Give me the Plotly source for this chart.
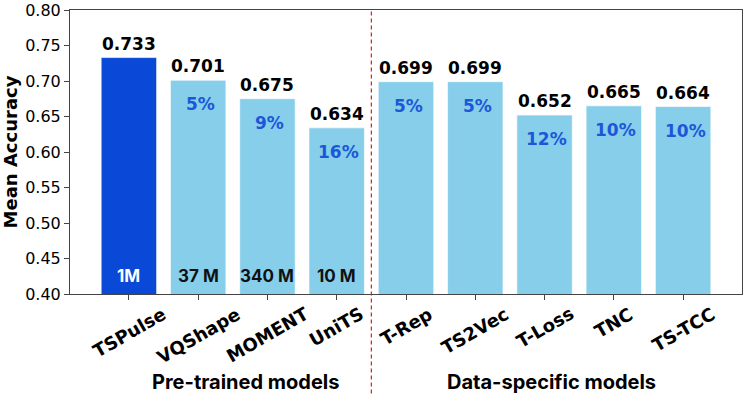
import plotly.graph_objects as go

models = ["TSPulse", "VQShape", "MOMENT", "UniTS", "T-Rep", "TS2Vec", "T-Loss", "TNC", "TS-TCC"]
accuracy = [0.733, 0.701, 0.675, 0.634, 0.699, 0.699, 0.652, 0.665, 0.664]
gap_pct = ["", "5%", "9%", "16%", "5%", "5%", "12%", "10%", "10%"]
params = ["1M", "37 M", "340 M", "10 M", "", "", "", "", ""]
groups = ["Pre-trained models", "Data-specific models"]
y_ticks = [0.40, 0.45, 0.50, 0.55, 0.60, 0.65, 0.70, 0.75, 0.80]

DARK_BLUE = "#0a49d8"
LIGHT_BLUE = "#87ceeb"
PCT_BLUE = "#1b58d8"
MPL_FONT = "DejaVu Sans"
OFFICE_FONT = "Inter"

x = list(range(len(models)))
colors = [DARK_BLUE] + [LIGHT_BLUE] * (len(models) - 1)

fig = go.Figure()
fig.add_trace(go.Bar(
    x=x, y=accuracy, width=0.8,
    marker=dict(color=colors, line=dict(color="rgba(255,255,255,0.6)", width=1)),
    hoverinfo="skip",
))

for i, v in enumerate(accuracy):
    fig.add_annotation(x=i, y=v, text=f"<b>{v:.3f}</b>", showarrow=False,
                       yanchor="bottom", yshift=2,
                       font=dict(family=MPL_FONT, size=17, color="black"))
    if gap_pct[i]:
        fig.add_annotation(x=i + 0.03, y=v - 0.034, text=f"<b>{gap_pct[i]}</b>", showarrow=False,
                           yanchor="middle",
                           font=dict(family=MPL_FONT, size=17, color=PCT_BLUE))
    if params[i]:
        fig.add_annotation(x=i, y=0.426, text=f"<b>{params[i]}</b>", showarrow=False,
                           yanchor="middle",
                           font=dict(family=OFFICE_FONT, size=17,
                                     color="white" if i == 0 else "#111111"))
    # rotated model names, centred under each tick (matplotlib ha="center" style)
    fig.add_annotation(x=i, y=-0.022, xref="x", yref="paper", text=f"<b>{models[i]}</b>",
                       showarrow=False, textangle=-30, xanchor="center", yanchor="top",
                       font=dict(family=MPL_FONT, size=18, color="black"))

# group labels under the axis
for gx, label in zip([1.68, 6.1], groups):
    fig.add_annotation(x=gx, y=-0.31, xref="x", yref="paper", text=f"<b>{label}</b>",
                       showarrow=False, yanchor="middle",
                       font=dict(family=OFFICE_FONT, size=20, color="black"))

# divider between the two groups
fig.add_shape(type="line", xref="x", yref="paper", x0=3.5, x1=3.5, y0=-0.35, y1=1,
              line=dict(color="#e8191c", width=1.2, dash="4px,3px"))

fig.update_layout(
    width=748, height=394,
    margin=dict(l=70, r=6, t=10, b=100),
    paper_bgcolor="white", plot_bgcolor="white",
    showlegend=False,
)
fig.update_xaxes(
    range=[-0.85, 8.85], automargin=False,
    tickvals=x, showticklabels=False,
    ticks="outside", ticklen=5, tickcolor="#444",
    showline=True, linecolor="#444", linewidth=1, mirror=True,
    showgrid=False, zeroline=False,
)
fig.update_yaxes(
    range=[0.40, 0.80], automargin=False,
    tickvals=y_ticks, ticktext=[f"{t:.2f}" for t in y_ticks],
    tickfont=dict(family=MPL_FONT, size=16, color="black"),
    ticks="outside", ticklen=5, tickcolor="#444",
    showline=True, linecolor="#444", linewidth=1, mirror=True,
    showgrid=False, zeroline=False,
    title=dict(text="<b>Mean Accuracy</b>", font=dict(family=MPL_FONT, size=18, color="black"),
               standoff=5),
)

fig.write_html("out.html", config={"displayModeBar": False},
               post_script="document.body.style.margin='0';")
